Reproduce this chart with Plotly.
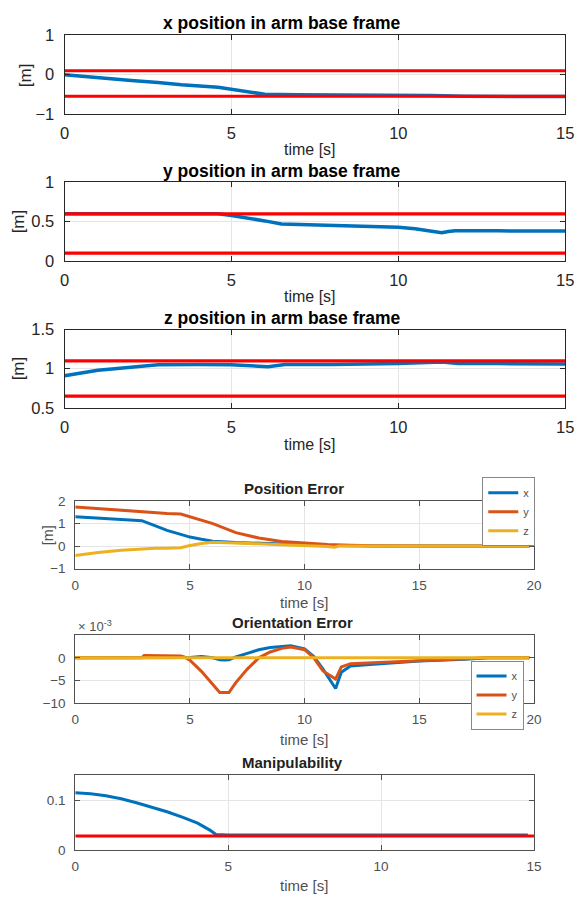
import plotly.graph_objects as go

W, H = 583, 906

# ---------------- data ----------------
# x position in arm base frame
t_xpos = [0, 0.5, 1, 1.5, 2, 2.8, 3.5, 4.6, 5.0, 5.5, 6.0, 7, 8, 9, 10, 11, 12, 13, 14, 15]
xpos = [0, -0.04, -0.08, -0.12, -0.15, -0.2, -0.26, -0.32, -0.37, -0.44, -0.5, -0.51, -0.51, -0.52, -0.52, -0.53, -0.55, -0.55, -0.56, -0.56]
xpos_limits = [0.1, -0.55]

# y position in arm base frame
t_ypos = [0, 2, 4.6, 5.0, 5.5, 6.0, 6.5, 7, 8, 9, 10, 10.5, 11.0, 11.3, 11.5, 11.7, 13, 15]
ypos = [0.6, 0.6, 0.6, 0.58, 0.55, 0.51, 0.47, 0.465, 0.455, 0.445, 0.43, 0.41, 0.375, 0.358, 0.375, 0.385, 0.383, 0.38]
ypos_limits = [0.6, 0.1]

# z position in arm base frame
t_zpos = [0, 0.5, 1, 1.5, 2, 2.8, 4, 5, 6.1, 6.6, 8, 10, 11.3, 11.8, 13, 15]
zpos = [0.91, 0.95, 0.98, 1.0, 1.02, 1.05, 1.055, 1.05, 1.025, 1.055, 1.055, 1.065, 1.085, 1.065, 1.065, 1.06]
zpos_limits = [1.1, 0.65]

# Position error
t_perr = [0, 1, 2, 2.9, 3.5, 4, 4.6, 5, 5.5, 6, 7, 8, 9, 10, 11, 11.3, 11.5, 12, 13, 14, 16, 19.8]
perr_x = [1.3, 1.24, 1.18, 1.13, 0.9, 0.7, 0.52, 0.4, 0.3, 0.22, 0.16, 0.12, 0.08, 0.05, 0.03, 0.03, 0.02, 0.02, 0.01, 0.0, 0.0, 0.0]
perr_y = [1.74, 1.66, 1.58, 1.52, 1.48, 1.45, 1.42, 1.3, 1.15, 1.0, 0.6, 0.36, 0.2, 0.12, 0.07, 0.06, 0.05, 0.04, 0.02, 0.01, 0.0, 0.0]
perr_z = [-0.42, -0.28, -0.18, -0.12, -0.1, -0.09, -0.07, 0.03, 0.12, 0.17, 0.15, 0.1, 0.06, 0.03, -0.02, -0.05, 0.0, 0.0, 0.0, 0.0, 0.0, 0.0]

# Orientation error (x 10^-3)
t_oerr = [0, 2.9, 3.0, 4.6, 4.75, 5.0, 5.5, 6.0, 6.3, 6.5, 6.7, 7.0, 7.5, 8.0, 8.5, 9.0, 9.4, 10.0, 10.4, 10.8, 11.0, 11.35, 11.6, 12.0, 13.0, 15.0, 17.0, 18.0, 19.8]
oerr_x = [0, 0, 0, 0, 0, 0.1, 0.3, 0.0, -0.4, -0.5, -0.4, 0.2, 1.0, 1.8, 2.3, 2.6, 2.7, 2.0, 0.3, -2.5, -4.0, -6.8, -3.2, -1.8, -1.4, -0.7, -0.3, 0, 0]
oerr_y = [0, 0, 0.5, 0.4, 0.2, -0.5, -3.0, -6.0, -7.7, -7.7, -7.7, -5.5, -2.5, 0.0, 1.3, 2.1, 2.4, 1.8, 0.0, -2.9, -3.6, -4.7, -2.0, -1.3, -1.1, -0.6, -0.2, 0, 0]
oerr_z = [0] * 29

# Manipulability
t_man = [0, 0.5, 1, 1.5, 2, 2.5, 3, 3.5, 4, 4.4, 4.6, 5, 8, 11, 14.8]
man = [0.115, 0.113, 0.109, 0.103, 0.095, 0.086, 0.077, 0.066, 0.054, 0.04, 0.031, 0.03, 0.03, 0.03, 0.03]
man_limit = [0.028]

C_BLUE, C_ORANGE, C_YELLOW, C_RED = "#0072BD", "#D95319", "#EDB120", "#FF0000"

# ---------------- layout helpers ----------------
def xd(l, r):
    return [l / W, r / W]

def yd(top, bot):
    return [1 - bot / H, 1 - top / H]

def py(p):
    return 1 - p / H

def px(p):
    return p / W

FONT = "Liberation Sans, Arial, Helvetica, sans-serif"

fig = go.Figure()

# top three panels
top_panels = [
    (t_xpos, xpos, xpos_limits, "x", "y"),
    (t_ypos, ypos, ypos_limits, "x2", "y2"),
    (t_zpos, zpos, zpos_limits, "x3", "y3"),
]
for t, v, lims, xa, ya in top_panels:
    fig.add_trace(go.Scatter(x=t, y=v, mode="lines", line=dict(color=C_BLUE, width=3.5),
                             xaxis=xa, yaxis=ya, showlegend=False))
    for lim in lims:
        fig.add_trace(go.Scatter(x=[0, 15], y=[lim, lim], mode="lines",
                                 line=dict(color=C_RED, width=3.2),
                                 xaxis=xa, yaxis=ya, showlegend=False))

# position error
for v, c, n in [(perr_x, C_BLUE, "x"), (perr_y, C_ORANGE, "y"), (perr_z, C_YELLOW, "z")]:
    fig.add_trace(go.Scatter(x=t_perr, y=v, mode="lines", name=n, line=dict(color=c, width=3),
                             xaxis="x4", yaxis="y4", legend="legend"))
# orientation error
for v, c, n in [(oerr_x, C_BLUE, "x"), (oerr_y, C_ORANGE, "y"), (oerr_z, C_YELLOW, "z")]:
    fig.add_trace(go.Scatter(x=t_oerr, y=v, mode="lines", name=n, line=dict(color=c, width=3),
                             xaxis="x5", yaxis="y5", legend="legend2"))
# manipulability
fig.add_trace(go.Scatter(x=t_man, y=man, mode="lines", line=dict(color=C_BLUE, width=3),
                         xaxis="x6", yaxis="y6", showlegend=False))
fig.add_trace(go.Scatter(x=[0, 15], y=[man_limit[0]] * 2, mode="lines", line=dict(color=C_RED, width=3),
                         xaxis="x6", yaxis="y6", showlegend=False))

def axis_common(color, size, grid="#e5e5e5"):
    return dict(showline=True, linecolor=color, linewidth=1, mirror="ticks",
                ticks="inside", ticklen=5, tickcolor=color, tickwidth=1,
                showgrid=True, gridcolor=grid, gridwidth=1, zeroline=False,
                ticklabeloverflow="allow",
                tickfont=dict(family=FONT, size=size, color=color))

TOPC = "#262626"
LOWC = "#505050"

panels = {
    1: dict(x=(61, 574), y=(27, 107), xr=[0, 15], xt=[0, 5, 10, 15], yr=[-1, 1], yt=[-1, 0, 1], c=TOPC, s=16.5),
    2: dict(x=(61, 574), y=(177, 257), xr=[0, 15], xt=[0, 5, 10, 15], yr=[0, 1], yt=[0, 0.5, 1], c=TOPC, s=16.5),
    3: dict(x=(61, 574), y=(327, 407), xr=[0, 15], xt=[0, 5, 10, 15], yr=[0.5, 1.5], yt=[0.5, 1, 1.5], c=TOPC, s=16.5),
    4: dict(x=(72, 542), y=(502, 571), xr=[0, 20], xt=[0, 5, 10, 15, 20], yr=[-1, 2], yt=[-1, 0, 1, 2], c=LOWC, s=13.5),
    5: dict(x=(72, 542), y=(639, 708), xr=[0, 20], xt=[0, 5, 10, 15, 20], yr=[-10, 5], yt=[-10, -5, 0], c=LOWC, s=13.5),
    6: dict(x=(72, 542), y=(782, 858), xr=[0, 15], xt=[0, 5, 10, 15], yr=[0, 0.15], yt=[0, 0.1], c=LOWC, s=13.5),
}
lay = {}
for i, p in panels.items():
    sx = "" if i == 1 else str(i)
    xa = axis_common(p["c"], p["s"])
    xa.update(domain=xd(*p["x"]), range=p["xr"], tickvals=p["xt"], anchor="y" + sx,
              ticklabelstandoff=4)
    ya = axis_common(p["c"], p["s"])
    ya.update(domain=yd(*p["y"]), range=p["yr"], tickvals=p["yt"], anchor="x" + sx,
              ticklabelstandoff=6)
    lay["xaxis" + sx] = xa
    lay["yaxis" + sx] = ya

fig.update_layout(**lay)

ann = []
def text(x, y, s, size, color, bold=False, angle=0, xanchor="center"):
    ann.append(dict(x=px(x), y=py(y), xref="paper", yref="paper", text=("<b>%s</b>" % s) if bold else s,
                    showarrow=False, xanchor=xanchor, yanchor="middle", textangle=angle,
                    font=dict(family=FONT, size=size, color=color)))

# titles
text(284, 14, "x position in arm base frame", 17.5, "#000", bold=True)
text(284, 165, "y position in arm base frame", 17.5, "#000", bold=True)
text(284, 315, "z position in arm base frame", 17.5, "#000", bold=True)
text(296, 489, "Position Error", 15, "#222", bold=True)
text(295, 626, "Orientation Error", 15, "#222", bold=True)
text(295, 769, "Manipulability", 15, "#222", bold=True)
# x labels
for yy in (143, 293, 444):
    text(313, yy, "time [s]", 16, TOPC)
for yy in (606, 745, 894):
    text(306, yy, "time [s]", 15, LOWC)
# y labels
text(21, 67, "[m]", 17, TOPC, angle=-90)
text(14, 217, "[m]", 17, TOPC, angle=-90)
text(14, 367, "[m]", 17, TOPC, angle=-90)
text(44, 537, "[m]", 14.5, LOWC, angle=-90)
# exponent
text(73, 630, "× 10<sup>-3</sup>", 13, LOWC, xanchor="left")

legend_style = dict(bgcolor="white", bordercolor="#888", borderwidth=1,
                    font=dict(family=FONT, size=11, color=LOWC),
                    itemwidth=30, xanchor="left", yanchor="middle", tracegroupgap=0,
                    xref="paper", yref="paper")
fig.update_layout(
    width=W, height=H, margin=dict(l=0, r=0, t=0, b=0),
    paper_bgcolor="white", plot_bgcolor="white",
    annotations=ann,
    legend=dict(x=px(489), y=py(513), **legend_style),
    legend2=dict(x=px(477), y=py(700), **legend_style),
    showlegend=True,
)

fig.write_html("out.html", config={"displayModeBar": False},
               post_script="document.body.style.margin='0px';document.body.style.overflow='hidden';")
